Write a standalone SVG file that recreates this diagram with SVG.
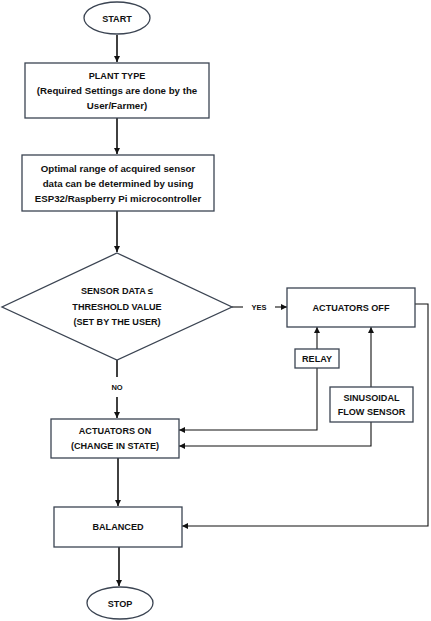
<svg xmlns="http://www.w3.org/2000/svg" width="431" height="621" viewBox="0 0 431 621">
<style>
.box{fill:#fff;stroke:#3b4452;stroke-width:1.3}
.t{font-family:"Liberation Sans",Arial,sans-serif;font-weight:bold;font-size:9.1px;fill:#111;text-anchor:middle}
.m{font-size:9.7px}
.c{fill:none;stroke:#111;stroke-width:1.6}
.c2{fill:none;stroke:#111;stroke-width:1.1}
</style>
<defs>
<marker id="ah" viewBox="0 0 10 10" refX="10" refY="5" markerWidth="6" markerHeight="6" markerUnits="userSpaceOnUse" orient="auto">
<path d="M0,0 L10,5 L0,10 z" fill="#111"/>
</marker>
</defs>
<rect width="431" height="621" fill="#fff"/>
<g id="connectors">
<line class="c" x1="117" y1="35" x2="117" y2="62" marker-end="url(#ah)"/>
<line class="c" x1="117" y1="118" x2="117" y2="154" marker-end="url(#ah)"/>
<line class="c" x1="117" y1="211" x2="117" y2="252" marker-end="url(#ah)"/>
<line class="c2" x1="232" y1="307" x2="243" y2="307"/>
<line class="c2" x1="275" y1="307" x2="287" y2="307" marker-end="url(#ah)"/>
<line class="c" x1="117" y1="360" x2="117" y2="377"/>
<line class="c" x1="117" y1="397" x2="117" y2="418" marker-end="url(#ah)"/>
<line class="c" x1="118" y1="458" x2="118" y2="506" marker-end="url(#ah)"/>
<line class="c" x1="119" y1="547" x2="119" y2="586" marker-end="url(#ah)"/>
<line class="c2" x1="317" y1="349" x2="317" y2="327" marker-end="url(#ah)"/>
<polyline class="c2" points="317,368 317,430 179,430" marker-end="url(#ah)"/>
<line class="c2" x1="371" y1="387" x2="371" y2="327" marker-end="url(#ah)"/>
<polyline class="c2" points="371,422 371,446 179,446" marker-end="url(#ah)"/>
<polyline class="c2" points="415,304 428,304 428,526 182,526" marker-end="url(#ah)"/>
</g>
<g id="start"><ellipse class="box" cx="117" cy="18" rx="33" ry="16"/><text class="t" x="117" y="21.5">START</text></g>
<g id="plant"><rect class="box" x="25" y="63" width="184" height="55"/>
<text class="t" x="117" y="78.5">PLANT TYPE</text>
<text class="t m" x="117" y="93.5">(Required Settings are done by the</text>
<text class="t m" x="117" y="109">User/Farmer)</text></g>
<g id="optimal"><rect class="box" x="22" y="155" width="192" height="56"/>
<text class="t m" x="118" y="171.5">Optimal range of acquired sensor</text>
<text class="t m" x="118" y="186.5">data can be determined by using</text>
<text class="t m" x="118" y="201.5">ESP32/Raspberry Pi microcontroller</text></g>
<g id="decision"><polygon class="box" points="117,253 232,307 117,360 2,307"/>
<text class="t" x="117" y="294">SENSOR DATA ≤</text>
<text class="t" x="117" y="309.5">THRESHOLD VALUE</text>
<text class="t" x="117" y="324.5">(SET BY THE USER)</text></g>
<g id="yes"><text class="t" x="259" y="310" style="font-size:7.5px">YES</text></g>
<g id="no"><text class="t" x="117" y="390" style="font-size:7.5px">NO</text></g>
<g id="off"><rect class="box" x="287" y="288" width="128" height="39"/>
<text class="t" x="351" y="310.5">ACTUATORS OFF</text></g>
<g id="relay"><rect class="box" x="295" y="349" width="44" height="19"/>
<text class="t" x="317" y="361.5">RELAY</text></g>
<g id="flow"><rect class="box" x="330" y="387" width="83" height="35"/>
<text class="t" x="371.5" y="400.5">SINUSOIDAL</text>
<text class="t" x="371.5" y="414.5">FLOW SENSOR</text></g>
<g id="on"><rect class="box" x="51" y="419" width="128" height="39"/>
<text class="t" x="115" y="433.5">ACTUATORS ON</text>
<text class="t" x="115" y="448.5">(CHANGE IN STATE)</text></g>
<g id="balanced"><rect class="box" x="54" y="507" width="128" height="40"/>
<text class="t" x="118" y="530">BALANCED</text></g>
<g id="stop"><ellipse class="box" cx="120" cy="603" rx="33" ry="16"/><text class="t" x="120" y="606.5">STOP</text></g>
</svg>
